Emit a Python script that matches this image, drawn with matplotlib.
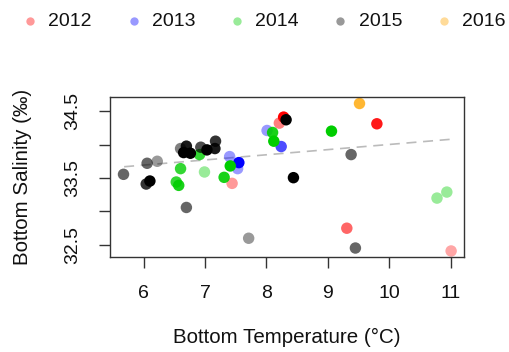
import matplotlib
matplotlib.use('Agg')
import matplotlib.pyplot as plt
from matplotlib.lines import Line2D
import numpy as np

plt.rcParams['font.family'] = ['Liberation Sans', 'DejaVu Sans']

years = ['2012', '2013', '2014', '2015', '2016']
year_colors = ['#FF0000', '#0000FF', '#00CD00', '#000000', '#FFA500']

# bottom temperature, bottom salinity, opacity per sample
temp_2012 = [7.44, 8.21, 8.28, 9.80, 9.31, 11.01]
sal_2012 = [33.42, 34.32, 34.41, 34.31, 32.75, 32.41]
alpha_2012 = [0.4, 0.5, 1.0, 0.9, 0.6, 0.35]

temp_2013 = [7.40, 7.55, 7.53, 8.01, 8.24]
sal_2013 = [33.82, 33.73, 33.64, 34.21, 33.97]
alpha_2013 = [0.4, 1.0, 0.4, 0.4, 0.7]

temp_2014 = [6.91, 6.60, 6.53, 6.57, 6.99, 7.31, 7.41, 8.10, 8.12, 9.06, 10.78, 10.94]
sal_2014 = [33.85, 33.64, 33.44, 33.39, 33.59, 33.51, 33.68, 34.18, 34.05, 34.20, 33.20, 33.29]
alpha_2014 = [0.8, 0.8, 0.8, 0.9, 0.4, 0.9, 1.0, 0.9, 1.0, 1.0, 0.4, 0.4]

temp_2015 = [5.67, 6.055, 6.22, 6.10, 6.04, 6.695, 6.60, 6.65, 6.76, 6.93,
             7.03, 7.17, 7.16, 6.695, 7.71, 8.32, 8.44, 9.38, 9.45]
sal_2015 = [33.555, 33.72, 33.75, 33.455, 33.41, 33.976, 33.94, 33.88, 33.87, 33.96,
            33.92, 34.05, 33.94, 33.06, 32.60, 34.37, 33.505, 33.85, 32.454]
alpha_2015 = [0.6, 0.6, 0.4, 1.0, 0.8, 0.9, 0.5, 1.0, 1.0, 0.7,
              1.0, 0.8, 0.9, 0.6, 0.4, 1.0, 1.0, 0.6, 0.6]

temp_2016 = [9.51]
sal_2016 = [34.62]
alpha_2016 = [0.8]

# fitted trend line (salinity = intercept + slope * temperature)
fit_intercept = 33.231
fit_slope = 0.077
fit_range = [5.68, 11.02]

series = [
  (temp_2012, sal_2012, alpha_2012),
  (temp_2013, sal_2013, alpha_2013),
  (temp_2014, sal_2014, alpha_2014),
  (temp_2015, sal_2015, alpha_2015),
  (temp_2016, sal_2016, alpha_2016),
]

fig = plt.figure(figsize=(5.1, 3.52), dpi=100)
ax = fig.add_axes([0.2157, 0.2699, 0.6941, 0.4545])

for (t, s, a), col in zip(series, year_colors):
  rgba = np.array([matplotlib.colors.to_rgba(col)] * len(t))
  rgba[:, 3] = a
  ax.scatter(t, s, c=rgba, s=68, linewidths=0)

fx = np.array(fit_range)
ax.plot(fx, fit_intercept + fit_slope * fx, color='#BBBBBB', lw=1.2,
        ls=(0, (6, 4)), zorder=0.5)

ax.set_xlim(5.45, 11.22)
ax.set_ylim(32.32, 34.71)
ax.set_xticks([6, 7, 8, 9, 10, 11])
ax.set_yticks([32.5, 33.0, 33.5, 34.0, 34.5])
ax.set_yticklabels(['32.5', '', '33.5', '', '34.5'], rotation=90, va='center')
ax.tick_params(length=8, width=1, color='#333333', pad=12.5, labelsize=14,
               labelcolor='#111111')
for sp in ax.spines.values():
  sp.set_color('#333333')
  sp.set_linewidth(1)

ax.set_xlabel('Bottom Temperature (°C)', fontsize=14.8, va='center', color='#111111')
ax.xaxis.set_label_coords(0.5, -0.506)
ax.set_ylabel('Bottom Salinity (‰)', fontsize=14.8, va='center', color='#111111')
ax.yaxis.set_label_coords(-0.2458, 0.5)

# legend across the top
for i, (yr, col) in enumerate(zip(years, year_colors)):
  mx = (30 + 103.5 * i) / 510
  my = 1 - 21 / 352
  fig.add_artist(Line2D([mx], [my], marker='o', ms=6, mew=0, color=col,
                        alpha=0.4, transform=fig.transFigure))
  fig.text(mx + 18.5 / 510, my, yr, fontsize=14, va='center', ha='left',
           color='#111111')

plt.savefig('out.png', dpi=100)
